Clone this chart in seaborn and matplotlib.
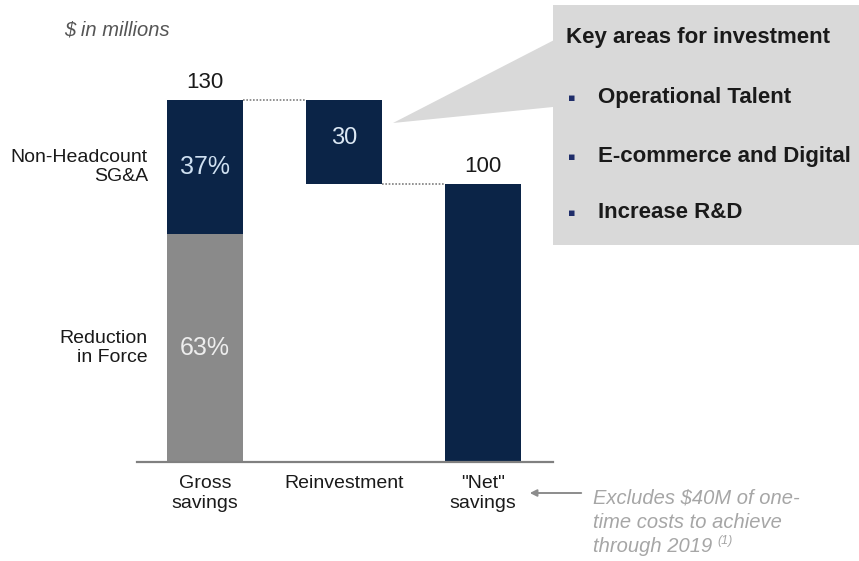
import matplotlib
matplotlib.use("Agg")
import matplotlib.pyplot as plt
from matplotlib.patches import Rectangle, Polygon, FancyArrowPatch
import seaborn as sns
import pandas as pd

# Savings waterfall, $ in millions
categories = ["Gross\nsavings", "Reinvestment", "\"Net\"\nsavings"]
gross_total = 130
reinvestment = 30
net_total = gross_total - reinvestment
share_non_headcount = 37
share_reduction = 63
segment_labels = ["Non-Headcount\nSG&A", "Reduction\nin Force"]
investment_areas = ["Operational Talent", "E-commerce and Digital", "Increase R&D"]
footnote_lines = ["Excludes $40M of one-", "time costs to achieve", "through 2019"]

NAVY = "#0b2447"
GREY = "#8a8a8a"
BOX = "#d9d9d9"
TEXT = "#1a1a1a"

sns.set_theme(style="white")
plt.rcParams["font.family"] = ["Liberation Sans", "DejaVu Sans"]

W, H = 859, 561
fig = plt.figure(figsize=(W / 100, H / 100), dpi=100)


def fx(px):
    return px / W


def fy(py):
    return 1 - py / H


# axes: baseline at y=462px, 2.785 px per $M
ax = fig.add_axes([fx(137), fy(462), 416 / W, 440 / H])

bar_w = 0.547
df = pd.DataFrame({
    "category": categories,
    "top": [gross_total, gross_total, net_total],
})
lower = gross_total * share_reduction / 100

# full-height bars (gross total, net total)
sns.barplot(data=df.iloc[[0, 2]], x="category", y="top", order=categories,
            color=NAVY, width=bar_w, saturation=1, ax=ax)
# reduction-in-force share at the bottom of gross savings
sns.barplot(x=[categories[0]], y=[lower], order=categories,
            color=GREY, width=bar_w, saturation=1, ax=ax)
# floating reinvestment step
ax.bar(1, reinvestment, bottom=net_total, width=bar_w, color=NAVY, linewidth=0)

for p in ax.patches:
    p.set_linewidth(0)

ax.set_xlim(-0.489, 2.504)
ax.set_ylim(0, 440 / 2.785)

# connectors between steps
ax.plot([bar_w / 2, 1 - bar_w / 2], [gross_total, gross_total],
        color="#7f7f7f", lw=1.2, ls=(0, (1, 1)))
ax.plot([1 + bar_w / 2, 2 - bar_w / 2], [net_total, net_total],
        color="#7f7f7f", lw=1.2, ls=(0, (1, 1)))

# value labels
ax.text(0, gross_total + 2.5, f"{gross_total}", ha="center", va="bottom",
        fontsize=16, color=TEXT)
ax.text(2, net_total + 2.5, f"{net_total}", ha="center", va="bottom",
        fontsize=16, color=TEXT)
ax.text(1, net_total + reinvestment * 0.55, f"{reinvestment}", ha="center",
        va="center", fontsize=17, color="#dce8f4")
ax.text(0, (lower + gross_total) / 2, f"{share_non_headcount}%", ha="center",
        va="center", fontsize=18, color="#cfe0f1")
ax.text(0, lower / 2, f"{share_reduction}%", ha="center", va="center",
        fontsize=18, color="#ededed")

# segment labels to the left of the gross bar
ax.text(-0.41, (lower + gross_total) / 2, segment_labels[0], ha="right",
        va="center", fontsize=14, color=TEXT, linespacing=1.1)
ax.text(-0.41, lower / 2, segment_labels[1], ha="right", va="center",
        fontsize=14, color=TEXT, linespacing=1.1)

# axis styling
for s in ["left", "right", "top"]:
    ax.spines[s].set_visible(False)
ax.spines["bottom"].set_color("#808080")
ax.spines["bottom"].set_linewidth(1.6)
ax.set_yticks([])
ax.set_xlabel("")
ax.set_ylabel("")
ax.tick_params(axis="x", length=0, pad=9, labelsize=14, labelcolor=TEXT)
for lbl in ax.get_xticklabels():
    lbl.set_linespacing(1.3)
ax.set_facecolor("none")

fig.text(fx(64), fy(30), "$ in millions", fontsize=14.5, style="italic",
         color="#555555", va="center", ha="left")

# callout box with pointer
fig.add_artist(Polygon([(fx(393), fy(123)), (fx(560), fy(37)), (fx(553), fy(107))],
                       closed=True, transform=fig.transFigure,
                       facecolor=BOX, edgecolor="none"))
fig.add_artist(Rectangle((fx(553), fy(245)), fx(W) - fx(553) + 0.01, (245 - 5) / H,
                         transform=fig.transFigure, facecolor=BOX, edgecolor="none"))
fig.text(fx(566), fy(38), "Key areas for investment", fontsize=16,
         fontweight="bold", color=TEXT, va="center", ha="left")
for yy, item in zip([98, 157, 213], investment_areas):
    fig.text(fx(568), fy(yy), "\u25aa", fontsize=8, color="#1f2d6a",
             va="center", ha="left", family=["DejaVu Sans"])
    fig.text(fx(598), fy(yy), item, fontsize=16, fontweight="bold",
             color=TEXT, va="center", ha="left")

# footnote with arrow
fig.add_artist(FancyArrowPatch((fx(584), fy(493)), (fx(527), fy(493)),
                               transform=fig.transFigure, arrowstyle="-|>",
                               mutation_scale=10, color="#8c8c8c", lw=1.4))
for yy, line in zip([498, 522, 546], footnote_lines):
    fig.text(fx(593), fy(yy), line, fontsize=14.5, style="italic",
             color="#a6a6a6", va="center", ha="left")
fig.text(fx(717), fy(541), "(1)", fontsize=9, style="italic",
         color="#a6a6a6", va="center", ha="left")

fig.savefig("out.png", dpi=100, facecolor="white")
